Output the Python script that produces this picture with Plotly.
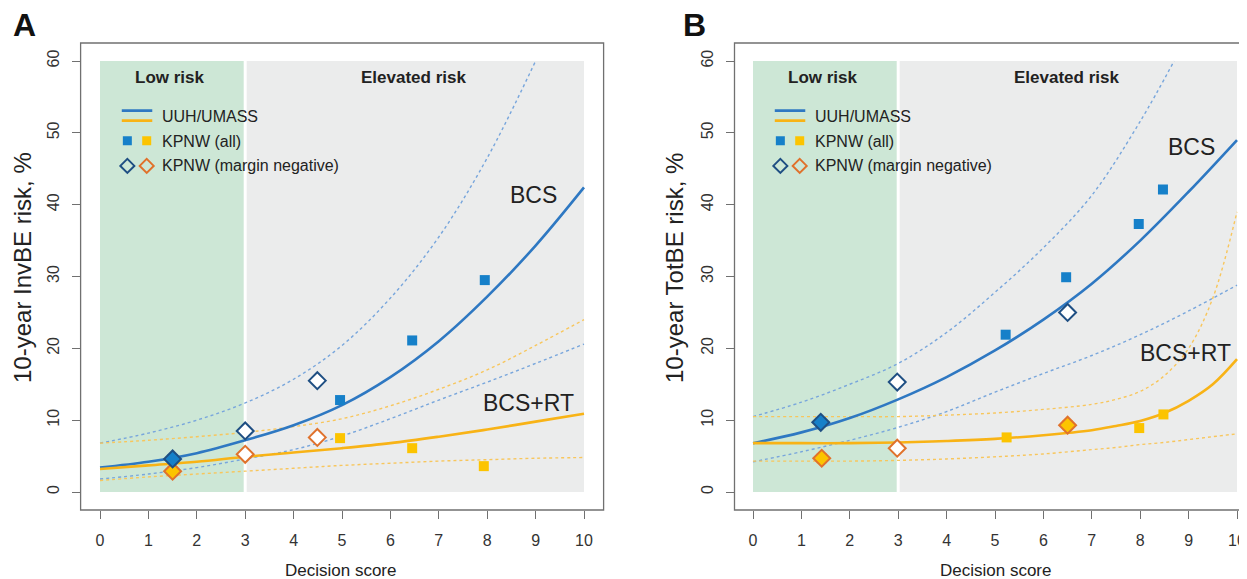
import plotly.graph_objects as go

# ---------------- data ----------------
curve_x = [0, 1, 2, 3, 4, 5, 6, 7, 8, 9, 10]
curve_x_fine = [0, 1, 2, 3, 4, 5, 6, 7, 7.5, 8, 8.5, 9, 9.5, 10]

# Panel A: 10-year InvBE risk
a_bcs = [3.4, 4.2, 5.4, 7.2, 9.3, 12.1, 16.0, 21.0, 27.2, 34.3, 42.4]
a_bcs_hi_x = [0, 1, 2, 3, 4, 5, 6, 7, 8, 9]
a_bcs_hi = [6.8, 8.2, 10.0, 12.4, 15.7, 20.4, 27.0, 35.5, 46.5, 60.0]
a_bcs_lo = [1.8, 2.5, 3.4, 4.6, 5.9, 7.8, 10.2, 12.8, 15.3, 17.9, 20.6]
a_rt = [3.2, 3.7, 4.2, 4.9, 5.5, 6.1, 6.8, 7.7, 8.7, 9.8, 10.9]
a_rt_hi = [6.8, 7.2, 7.7, 8.3, 9.1, 10.2, 12.0, 14.3, 17.0, 20.4, 24.0]
a_rt_lo = [1.6, 2.1, 2.5, 2.9, 3.3, 3.7, 4.0, 4.3, 4.5, 4.7, 4.8]

a_bcs_all_x = [1.5, 4.96, 6.45, 7.95]
a_bcs_all_y = [4.6, 12.8, 21.1, 29.5]
a_rt_all_x = [1.5, 4.96, 6.45, 7.93]
a_rt_all_y = [2.9, 7.5, 6.1, 3.6]
a_bcs_neg_x = [1.5, 3.0, 4.49]
a_bcs_neg_y = [4.6, 8.5, 15.5]
a_rt_neg_x = [1.5, 3.0, 4.49]
a_rt_neg_y = [2.9, 5.25, 7.6]

# Panel B: 10-year TotBE risk
b_bcs = [6.8, 8.3, 10.3, 12.9, 16.0, 19.7, 24.0, 29.0, 35.0, 41.8, 49.0]
b_bcs_hi_x = [0, 1, 2, 3, 4, 5, 6, 7, 8, 8.7]
b_bcs_hi = [10.5, 12.5, 15.0, 17.9, 22.2, 27.8, 34.0, 41.3, 51.6, 60.0]
b_bcs_lo = [4.2, 5.6, 7.2, 9.0, 11.2, 13.9, 16.5, 19.0, 21.9, 25.2, 28.8]
b_rt = [6.8, 6.8, 6.8, 6.9, 7.1, 7.4, 7.9, 8.6, 9.2, 9.9, 11.0, 12.7, 15.0, 18.5]
b_rt_hi = [10.5, 10.5, 10.5, 10.5, 10.7, 11.0, 11.5, 12.2, 12.9, 14.0, 16.2, 20.0, 27.0, 39.0]
b_rt_lo = [4.3, 4.3, 4.3, 4.4, 4.6, 4.9, 5.3, 5.9, 6.2, 6.6, 6.9, 7.3, 7.7, 8.1]

b_bcs_all_x = [1.4, 5.22, 6.47, 7.97, 8.47]
b_bcs_all_y = [9.7, 21.9, 29.9, 37.3, 42.1]
b_rt_all_x = [1.42, 5.24, 6.5, 7.98, 8.48]
b_rt_all_y = [4.7, 7.6, 9.3, 8.9, 10.8]
b_bcs_neg_x = [1.4, 2.98, 6.5]
b_bcs_neg_y = [9.7, 15.3, 25.0]
b_rt_neg_x = [1.42, 2.98, 6.5]
b_rt_neg_y = [4.7, 6.1, 9.3]

x_ticks = [0, 1, 2, 3, 4, 5, 6, 7, 8, 9, 10]
y_ticks = [0, 10, 20, 30, 40, 50, 60]
legend_labels = ["UUH/UMASS", "KPNW (all)", "KPNW (margin negative)"]
zone_labels = ["Low risk", "Elevated risk"]
y_titles = ["10-year InvBE risk, %", "10-year TotBE risk, %"]
x_title = "Decision score"
panel_letters = ["A", "B"]

# ---------------- styles / layout ----------------
WIN_W, WIN_H = 1247, 579
OFF = 8                      # default page margin around the plot div
W, H = WIN_W - OFF, WIN_H - OFF
FONT = "Liberation Sans, Arial, Helvetica, sans-serif"
BLUE = "#2e78c2"
ORANGE = "#f8b316"
BLUE_DOT = "#78a6dc"
ORANGE_DOT = "#f8c65c"
BLUE_SQ = "#1680c9"
YELLOW_SQ = "#fcc400"
DIA_BLUE = "#1f4f83"
DIA_ORANGE = "#e0722c"
GREEN_BG = "#cde7d6"
GREY_BG = "#ebecec"
FRAME = "#707070"
TXT = "#222222"

PXU = 48.4          # px per x unit
PYU = 7.183         # px per y unit
Y0PX = 492          # window row of y = 0
TOP_PX, BOT_PX = 43, 510


def px(xw):
    return (xw - OFF) / W


def py(yw):
    return 1 - (yw - OFF) / H


fig = go.Figure()


def add_panel(ax, x0px, leftpx, rightpx, d):
    xs = "" if ax == 1 else str(ax)
    xa, ya = "x" + xs, "y" + xs
    right_vis = min(rightpx, WIN_W)
    xr = [(leftpx - x0px) / PXU, (right_vis - x0px) / PXU]
    yr = [(Y0PX - BOT_PX) / PYU, (Y0PX - TOP_PX) / PYU]
    common = dict(showgrid=False, zeroline=False, showline=False, ticks="outside",
                  ticklen=8, tickwidth=1, tickcolor=FRAME,
                  tickfont=dict(family=FONT, size=16, color="#333333"))
    fig.update_layout(**{
        "xaxis" + xs: dict(domain=[px(leftpx), min(px(right_vis), 1.0)], range=xr,
                           anchor=ya, tickvals=x_ticks, ticklabelstandoff=8, **common),
        "yaxis" + xs: dict(domain=[py(BOT_PX), py(TOP_PX)], range=yr,
                           anchor=xa, tickvals=y_ticks, tickangle=-90,
                           ticklabelstandoff=6, **common),
    })
    # background zones
    fig.add_shape(type="rect", xref=xa, yref=ya, x0=0, x1=3, y0=0, y1=60,
                  fillcolor=GREEN_BG, line_width=0, layer="below")
    fig.add_shape(type="rect", xref=xa, yref=ya, x0=3, x1=10, y0=0, y1=60,
                  fillcolor=GREY_BG, line_width=0, layer="below")
    fig.add_shape(type="line", xref=xa, yref=ya, x0=3, x1=3, y0=0, y1=60,
                  line=dict(color="white", width=3), layer="below")
    # frame
    fig.add_shape(type="rect", xref=xa + " domain", yref=ya + " domain",
                  x0=0, x1=1 if rightpx <= WIN_W else 1.2, y0=0, y1=1,
                  line=dict(color=FRAME, width=1.3), layer="above")

    def line(x, y, color, dash=None, width=2.6):
        fig.add_trace(go.Scatter(x=x, y=y, mode="lines", xaxis=xa, yaxis=ya,
                                 line=dict(color=color, width=width, dash=dash,
                                           shape="spline", smoothing=1),
                                 showlegend=False, hoverinfo="skip"))

    dash = "3px,3px"
    line(d["bcs_hi_x"], d["bcs_hi"], BLUE_DOT, dash, 1.4)
    line(d["lo_x"], d["bcs_lo"], BLUE_DOT, dash, 1.4)
    line(d["rt_x"], d["rt_hi"], ORANGE_DOT, dash, 1.4)
    line(d["rt_x"], d["rt_lo"], ORANGE_DOT, dash, 1.4)
    line(curve_x, d["bcs"], BLUE)
    line(d["rt_x"], d["rt"], ORANGE)

    def squares(x, y, color):
        fig.add_trace(go.Scatter(x=x, y=y, mode="markers", xaxis=xa, yaxis=ya,
                                 marker=dict(symbol="square", size=10, color=color,
                                             line=dict(width=0)),
                                 showlegend=False, hoverinfo="skip"))

    def diamonds(x, y, edge, allx, ally, fillc):
        fills = []
        for xi, yi in zip(x, y):
            hit = any(abs(xi - a) < 0.1 and abs(yi - b) < 0.3 for a, b in zip(allx, ally))
            fills.append(fillc if hit else "white")
        fig.add_trace(go.Scatter(x=x, y=y, mode="markers", xaxis=xa, yaxis=ya,
                                 marker=dict(symbol="diamond", size=13, color=fills,
                                             line=dict(width=2, color=edge)),
                                 showlegend=False, hoverinfo="skip"))

    squares(d["bcs_all_x"], d["bcs_all_y"], BLUE_SQ)
    squares(d["rt_all_x"], d["rt_all_y"], YELLOW_SQ)
    diamonds(d["rt_neg_x"], d["rt_neg_y"], DIA_ORANGE, d["rt_all_x"], d["rt_all_y"], YELLOW_SQ)
    diamonds(d["bcs_neg_x"], d["bcs_neg_y"], DIA_BLUE, d["bcs_all_x"], d["bcs_all_y"], BLUE_SQ)

    # zone labels
    for txt, xc in zip(zone_labels, [1.45, 6.48]):
        fig.add_annotation(x=xc, y=57.7, xref=xa, yref=ya, text="<b>%s</b>" % txt,
                           showarrow=False, xanchor="center", yanchor="middle",
                           font=dict(family=FONT, size=17, color=TXT))
    # legend (pixel-sized glyphs anchored in data space)
    lx0, lx1 = 0.45, 1.08
    fig.add_shape(type="line", xref=xa, yref=ya, x0=lx0, x1=lx1, y0=53.1, y1=53.1,
                  line=dict(color=BLUE, width=2.6))
    fig.add_shape(type="line", xref=xa, yref=ya, x0=lx0, x1=lx1, y0=51.7, y1=51.7,
                  line=dict(color=ORANGE, width=2.6))
    for cx, col in [(0.565, BLUE_SQ), (0.965, YELLOW_SQ)]:
        fig.add_shape(type="rect", xref=xa, yref=ya, xsizemode="pixel", ysizemode="pixel",
                      xanchor=cx, yanchor=48.9, x0=-4.5, x1=4.5, y0=-4.5, y1=4.5,
                      fillcolor=col, line_width=0)
    for cx, col in [(0.565, DIA_BLUE), (0.965, DIA_ORANGE)]:
        fig.add_shape(type="path", xref=xa, yref=ya, xsizemode="pixel", ysizemode="pixel",
                      xanchor=cx, yanchor=45.4, path="M -7 0 L 0 7 L 7 0 L 0 -7 Z",
                      fillcolor="rgba(0,0,0,0)", line=dict(color=col, width=2))
    for txt, yy in zip(legend_labels, [52.3, 48.8, 45.4]):
        fig.add_annotation(x=1.24, y=yy, xref=xa, yref=ya, text=txt, showarrow=False,
                           xanchor="left", yanchor="middle",
                           font=dict(family=FONT, size=16, color=TXT))
    # curve labels
    fig.add_annotation(x=d["bcs_lab"][0], y=d["bcs_lab"][1], xref=xa, yref=ya, text="BCS",
                       showarrow=False, xanchor="center", yanchor="middle",
                       font=dict(family=FONT, size=23, color=TXT))
    fig.add_annotation(x=d["rt_lab"][0], y=d["rt_lab"][1], xref=xa, yref=ya, text="BCS+RT",
                       showarrow=False, xanchor="center", yanchor="middle",
                       font=dict(family=FONT, size=23, color=TXT))


panel_a = dict(bcs=a_bcs, bcs_hi_x=a_bcs_hi_x, bcs_hi=a_bcs_hi, lo_x=curve_x, bcs_lo=a_bcs_lo,
               rt_x=curve_x, rt=a_rt, rt_hi=a_rt_hi, rt_lo=a_rt_lo,
               bcs_all_x=a_bcs_all_x, bcs_all_y=a_bcs_all_y, rt_all_x=a_rt_all_x,
               rt_all_y=a_rt_all_y, bcs_neg_x=a_bcs_neg_x, bcs_neg_y=a_bcs_neg_y,
               rt_neg_x=a_rt_neg_x, rt_neg_y=a_rt_neg_y,
               bcs_lab=(8.95, 41.4), rt_lab=(8.86, 12.4))
panel_b = dict(bcs=b_bcs, bcs_hi_x=b_bcs_hi_x, bcs_hi=b_bcs_hi, lo_x=curve_x, bcs_lo=b_bcs_lo,
               rt_x=curve_x_fine, rt=b_rt, rt_hi=b_rt_hi, rt_lo=b_rt_lo,
               bcs_all_x=b_bcs_all_x, bcs_all_y=b_bcs_all_y, rt_all_x=b_rt_all_x,
               rt_all_y=b_rt_all_y, bcs_neg_x=b_bcs_neg_x, bcs_neg_y=b_bcs_neg_y,
               rt_neg_x=b_rt_neg_x, rt_neg_y=b_rt_neg_y,
               bcs_lab=(9.07, 48.1), rt_lab=(8.93, 19.4))

add_panel(1, 100, 80.6, 603.6, panel_a)
add_panel(2, 753, 734.5, 1300, panel_b)

# axis titles and panel letters (paper coordinates)
for t, xc in zip(y_titles, [23, 675]):
    fig.add_annotation(x=px(xc), y=py(268), xref="paper", yref="paper", text=t,
                       textangle=-90, showarrow=False, xanchor="center", yanchor="middle",
                       font=dict(family=FONT, size=24, color=TXT))
for xc in [341, 996]:
    fig.add_annotation(x=px(xc), y=py(570), xref="paper", yref="paper", text=x_title,
                       showarrow=False, xanchor="center", yanchor="middle",
                       font=dict(family=FONT, size=17, color=TXT))
for t, xc in zip(panel_letters, [24, 694]):
    fig.add_annotation(x=px(xc), y=py(25), xref="paper", yref="paper",
                       text="<b>%s</b>" % t, showarrow=False, xanchor="center",
                       yanchor="middle", font=dict(family=FONT, size=32, color="#111111"))

fig.update_layout(width=W, height=H, margin=dict(l=0, r=0, t=0, b=0),
                  paper_bgcolor="white", plot_bgcolor="white", showlegend=False)

fig.write_html("out.html")
